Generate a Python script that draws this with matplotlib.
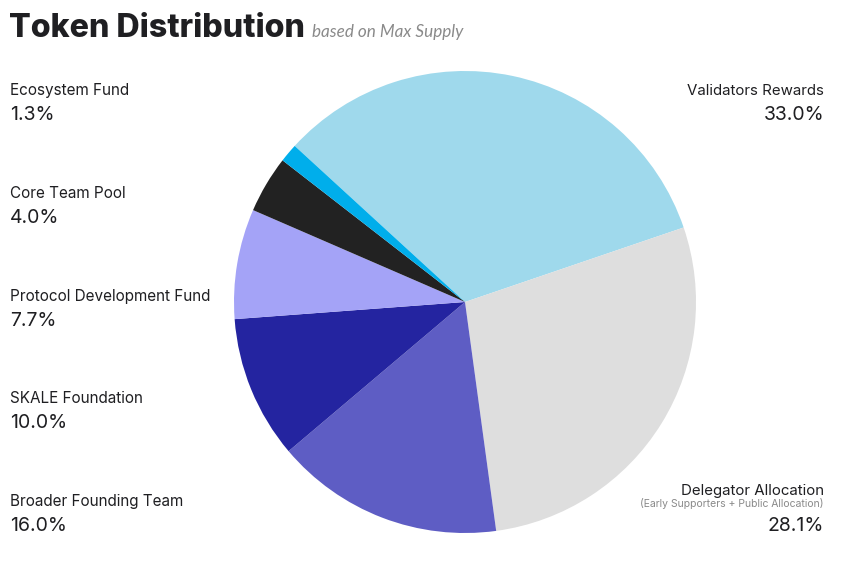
import matplotlib.pyplot as plt

# Dati della distribuzione (in senso orario a partire da Validators Rewards)
labels = ['Validators Rewards', 'Delegator Allocation', 'Broader Founding Team',
          'SKALE Foundation', 'Protocol Development Fund', 'Core Team Pool',
          'Ecosystem Fund']
shares = [33.0, 28.1, 16.0, 10.0, 7.7, 4.0, 1.3]
colors = ['#9FD9EC', '#DEDEDE', '#5E5DC4', '#2424A0', '#A4A3F7', '#222222', '#00AEEB']

# Etichette di sinistra: (nome, valore) dall'alto verso il basso
left_names = ['Ecosystem Fund', 'Core Team Pool', 'Protocol Development Fund',
              'SKALE Foundation', 'Broader Founding Team']
left_values = ['1.3%', '4.0%', '7.7%', '10.0%', '16.0%']

W, H = 850, 564
FONT = 'Inter'
TXT = '#1f1f22'

fig = plt.figure(figsize=(W / 100, H / 100), dpi=100)

# pie centrata a (465, 302) px con raggio 231 px
cx, cy, r = 465, 302, 231
ax = fig.add_axes([(cx - r) / W, (H - cy - r) / H, 2 * r / W, 2 * r / H])
ax.pie(shares, colors=colors, startangle=137.5, counterclock=False,
       radius=1, wedgeprops=dict(linewidth=0))
ax.set_xlim(-1, 1)
ax.set_ylim(-1, 1)
ax.set_aspect('equal')
ax.axis('off')


def px(x, y):
    return x / W, 1 - y / H


# Titolo
fig.text(*px(9, 37), 'Token Distribution', fontsize=23.2, fontweight='heavy',
         family=FONT, color=TXT, va='baseline')
fig.text(*px(312, 37), 'based on Max Supply', fontsize=12.3, style='italic',
         family='Lato', color='#8a8a8a', va='baseline')

# Etichette a sinistra
for i, (name, val) in enumerate(zip(left_names, left_values)):
    y0 = 95 + i * 102.8
    fig.text(*px(10, y0), name, fontsize=11, family=FONT, color=TXT, va='baseline')
    fig.text(*px(10, y0 + 25), val, fontsize=14, family=FONT, color=TXT, va='baseline')

# Etichette a destra
fig.text(*px(824, 95), 'Validators Rewards', fontsize=10.8, family=FONT, color=TXT,
         va='baseline', ha='right')
fig.text(*px(824, 120), '33.0%', fontsize=14, family=FONT, color=TXT,
         va='baseline', ha='right')
fig.text(*px(824, 495), 'Delegator Allocation', fontsize=10.8, family=FONT, color=TXT,
         va='baseline', ha='right')
fig.text(*px(824, 507), '(Early Supporters + Public Allocation)', fontsize=7.5,
         family=FONT, color='#8a8a8a', va='baseline', ha='right')
fig.text(*px(824, 531), '28.1%', fontsize=14, family=FONT, color=TXT,
         va='baseline', ha='right')

fig.savefig('out.png', dpi=100)
